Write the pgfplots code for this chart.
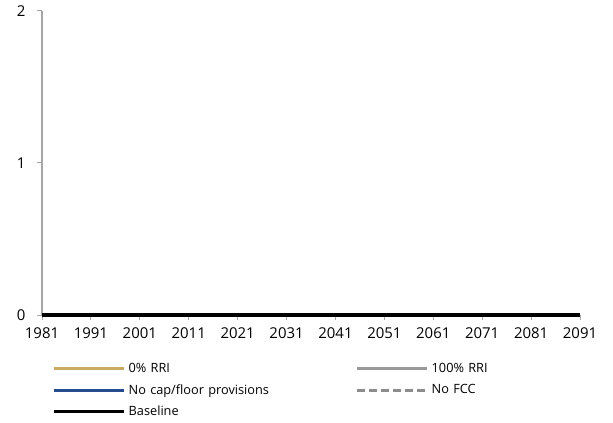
\documentclass[border=0pt]{standalone}
\usepackage{fontspec}
\setmainfont{Open Sans}
\usepackage{pgfplots}
\pgfplotsset{compat=1.18}
\definecolor{rrizero}{HTML}{C8AA64}
\definecolor{rrifull}{HTML}{999999}
\definecolor{nocap}{HTML}{244C8E}
\definecolor{nofcc}{HTML}{8C8C8C}
\definecolor{axgray}{HTML}{A6A6A6}

\pgfplotstableread{
year value
1981 0
1991 0
2001 0
2011 0
2021 0
2031 0
2041 0
2051 0
2061 0
2071 0
2081 0
2091 0
}\series

\begin{document}
\begin{tikzpicture}
\path[use as bounding box] (-42bp,-108bp) rectangle (571bp,315bp);
\begin{axis}[
  at={(0,0)}, anchor=south west,
  scale only axis,
  width=538bp, height=304bp,
  xmin=1981, xmax=2091,
  ymin=0, ymax=2,
  xtick={1981,1991,...,2091},
  ytick={0,1,2},
  xticklabel={\pgfmathprintnumber[assume math mode=true,1000 sep={}]{\tick}},
  yticklabel={\pgfmathprintnumber[assume math mode=true]{\tick}},
  axis x line*=bottom,
  axis y line*=left,
  axis line style={axgray, line width=1.5bp, -},
  tick style={axgray, line width=1bp},
  tick align=outside,
  major tick length=5bp,
  tick label style={font=\fontsize{15}{17}\selectfont, black},
  xticklabel style={yshift=-4bp},
  yticklabel style={xshift=-8bp},
  clip=false,
  legend columns=2,
  legend cell align=left,
  legend image code/.code={\draw[#1] (0bp,0bp) -- (70bp,0bp);},
  legend style={
    draw=none, fill=none,
    at={(7bp,-44bp)}, anchor=north west,
    font=\fontsize{12.8}{14}\selectfont,
    row sep=6.5bp,
    nodes={text width=224bp, inner xsep=3bp},
  },
]
\addplot[rrizero, line width=3bp] table[x=year, y=value] {\series};
\addlegendentry{0\% RRI}
\addplot[rrifull, line width=3bp] table[x=year, y=value] {\series};
\addlegendentry{100\% RRI}
\addplot[nocap, line width=3bp] table[x=year, y=value] {\series};
\addlegendentry{No cap/floor provisions}
\addplot[nofcc, line width=3bp, dash pattern=on 8bp off 4bp] table[x=year, y=value] {\series};
\addlegendentry{No FCC}
\addplot[black, line width=3.5bp] table[x=year, y=value] {\series};
\addlegendentry{Baseline}
\end{axis}
\end{tikzpicture}
\end{document}
